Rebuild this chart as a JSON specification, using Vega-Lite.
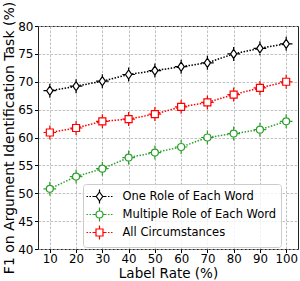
{
  "$schema": "https://vega.github.io/schema/vega-lite/v6.json",
  "width": 260,
  "height": 223,
  "autosize": "none",
  "padding": {"left": 38, "top": 26, "right": 2, "bottom": 32},
  "config": {
    "font": "DejaVu Sans",
    "view": {"stroke": "#222", "strokeWidth": 1},
    "axis": {
      "domain": false,
      "grid": true,
      "gridColor": "#b0b0b0",
      "gridDash": [2.5, 1.5],
      "gridWidth": 0.8,
      "tickColor": "#000",
      "tickSize": 3.5,
      "labelFont": "DejaVu Sans",
      "labelFontSize": 12,
      "labelColor": "#000",
      "titleFont": "DejaVu Sans",
      "titleFontSize": 14,
      "titleFontWeight": "normal",
      "titleColor": "#000"
    }
  },
  "data": {
    "values": [
      {"rate": 10, "f1": 68.4, "series": "One Role of Each Word"},
      {"rate": 20, "f1": 69.2, "series": "One Role of Each Word"},
      {"rate": 30, "f1": 70.1, "series": "One Role of Each Word"},
      {"rate": 40, "f1": 71.3, "series": "One Role of Each Word"},
      {"rate": 50, "f1": 72.0, "series": "One Role of Each Word"},
      {"rate": 60, "f1": 72.7, "series": "One Role of Each Word"},
      {"rate": 70, "f1": 73.4, "series": "One Role of Each Word"},
      {"rate": 80, "f1": 75.0, "series": "One Role of Each Word"},
      {"rate": 90, "f1": 76.0, "series": "One Role of Each Word"},
      {"rate": 100, "f1": 76.8, "series": "One Role of Each Word"},
      {"rate": 10, "f1": 50.8, "series": "Multiple Role of Each Word"},
      {"rate": 20, "f1": 53.0, "series": "Multiple Role of Each Word"},
      {"rate": 30, "f1": 54.4, "series": "Multiple Role of Each Word"},
      {"rate": 40, "f1": 56.4, "series": "Multiple Role of Each Word"},
      {"rate": 50, "f1": 57.3, "series": "Multiple Role of Each Word"},
      {"rate": 60, "f1": 58.3, "series": "Multiple Role of Each Word"},
      {"rate": 70, "f1": 60.0, "series": "Multiple Role of Each Word"},
      {"rate": 80, "f1": 60.7, "series": "Multiple Role of Each Word"},
      {"rate": 90, "f1": 61.4, "series": "Multiple Role of Each Word"},
      {"rate": 100, "f1": 62.9, "series": "Multiple Role of Each Word"},
      {"rate": 10, "f1": 60.9, "series": "All Circumstances"},
      {"rate": 20, "f1": 61.7, "series": "All Circumstances"},
      {"rate": 30, "f1": 62.9, "series": "All Circumstances"},
      {"rate": 40, "f1": 63.3, "series": "All Circumstances"},
      {"rate": 50, "f1": 64.2, "series": "All Circumstances"},
      {"rate": 60, "f1": 65.5, "series": "All Circumstances"},
      {"rate": 70, "f1": 66.3, "series": "All Circumstances"},
      {"rate": 80, "f1": 67.7, "series": "All Circumstances"},
      {"rate": 90, "f1": 68.9, "series": "All Circumstances"},
      {"rate": 100, "f1": 70.0, "series": "All Circumstances"}
    ]
  },
  "encoding": {
    "x": {
      "field": "rate", "type": "quantitative",
      "scale": {"domain": [5.5, 104.5], "nice": false, "zero": false},
      "axis": {"values": [10, 20, 30, 40, 50, 60, 70, 80, 90, 100], "title": "Label Rate (%)", "titlePadding": 1, "labelPadding": 1, "titleFontSize": 13.5, "labelFontSize": 11.8}
    },
    "y": {
      "field": "f1", "type": "quantitative",
      "scale": {"domain": [40, 80], "nice": false, "zero": false},
      "axis": {"values": [40, 45, 50, 55, 60, 65, 70, 75, 80], "title": "F1 on Argument Identification Task (%)", "titlePadding": 1, "labelPadding": 1.5}
    }
  },
  "layer": [
    {
      "transform": [{"filter": "datum.series === 'One Role of Each Word'"}],
      "mark": {"type": "line", "strokeWidth": 1.5, "strokeDash": [1.5, 1.5], "color": "#000000"}
    },
    {
      "transform": [{"filter": "datum.series === 'Multiple Role of Each Word'"}],
      "mark": {"type": "line", "strokeWidth": 1.5, "strokeDash": [1.5, 1.5], "color": "#2ca02c"}
    },
    {
      "transform": [{"filter": "datum.series === 'All Circumstances'"}],
      "mark": {"type": "line", "strokeWidth": 1.5, "strokeDash": [1.5, 1.5], "color": "#ff0000"}
    },
    {
      "transform": [{"filter": "datum.series === 'One Role of Each Word'"}],
      "mark": {"type": "point", "shape": "M0,-1.3L0.9,0L0,1.3L-0.9,0Z M0,-1.3V-2 M0,1.3V2 M-0.9,0H-1.8 M0.9,0H1.8", "size": 49, "fill": "white", "fillOpacity": 1, "stroke": "#000000", "strokeWidth": 1.2, "opacity": 1}
    },
    {
      "transform": [{"filter": "datum.series === 'Multiple Role of Each Word'"}],
      "mark": {"type": "point", "shape": "M-1,0A1,1 0 1,0 1,0A1,1 0 1,0 -1,0Z M0,-1V-2 M0,1V2 M-1,0H-1.8 M1,0H1.8", "size": 49, "fill": "white", "fillOpacity": 1, "stroke": "#2ca02c", "strokeWidth": 1.2, "opacity": 1}
    },
    {
      "transform": [{"filter": "datum.series === 'All Circumstances'"}],
      "mark": {"type": "point", "shape": "M-1,-1H1V1H-1Z M0,-1V-2 M0,1V2 M-1,0H-1.8 M1,0H1.8", "size": 49, "fill": "white", "fillOpacity": 1, "stroke": "#ff0000", "strokeWidth": 1.2, "opacity": 1}
    },
    {
      "mark": {"type": "point", "opacity": 0, "strokeWidth": 1.2},
      "encoding": {
        "color": {
          "field": "series", "type": "nominal",
          "scale": {"domain": ["One Role of Each Word", "Multiple Role of Each Word", "All Circumstances"], "range": ["#000000", "#2ca02c", "#ff0000"]}
        },
        "shape": {
          "field": "series", "type": "nominal",
          "scale": {
            "domain": ["One Role of Each Word", "Multiple Role of Each Word", "All Circumstances"],
            "range": [
              "M-1.857,0H-1.64 M-1.43,0H-1.21 M-1.0,0H-0.5 M0.5,0H1.0 M1.21,0H1.43 M1.64,0H1.857 M0,-0.64L0.46,0L0,0.64L-0.46,0Z M0,-0.64V-1 M0,0.64V1",
              "M-1.857,0H-1.64 M-1.43,0H-1.21 M-1.0,0H-0.5 M0.5,0H1.0 M1.21,0H1.43 M1.64,0H1.857 M-0.5,0A0.5,0.5 0 1,0 0.5,0A0.5,0.5 0 1,0 -0.5,0Z M0,-0.5V-1 M0,0.5V1",
              "M-1.857,0H-1.64 M-1.43,0H-1.21 M-1.0,0H-0.5 M0.5,0H1.0 M1.21,0H1.43 M1.64,0H1.857 M-0.5,-0.5H0.5V0.5H-0.5Z M0,-0.5V-1 M0,0.5V1"
            ]
          },
          "legend": {
            "title": null,
            "orient": "none",
            "legendX": 45,
            "legendY": 158,
            "symbolSize": 196,
            "symbolOpacity": 1,
            "symbolFillColor": "white",
            "symbolStrokeWidth": 1.2,
            "symbolOffset": 4,
            "labelOffset": 15,
            "labelFont": "DejaVu Sans",
            "labelFontSize": 11.5,
            "labelColor": "#000",
            "labelLimit": 300,
            "rowPadding": -4,
            "padding": 4.5,
            "strokeColor": "#cccccc",
            "fillColor": "rgba(255,255,255,0.8)",
            "cornerRadius": 3
          }
        }
      }
    }
  ]
}
